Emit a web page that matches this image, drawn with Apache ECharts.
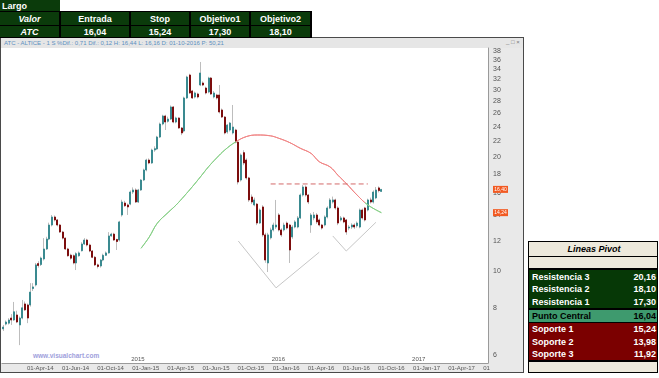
<!DOCTYPE html>
<html>
<head>
<meta charset="utf-8">
<title>ATC - ALTICE</title>
<script src="https://cdn.jsdelivr.net/npm/echarts@6.0.0/dist/echarts.min.js"></script>
<style>
  html, body { margin: 0; padding: 0; }
  body {
    width: 659px; height: 378px; position: relative; overflow: hidden;
    background: #fff; font-family: 'Liberation Sans', Arial, sans-serif;
  }
  .box { position: absolute; box-sizing: border-box; }
  #win { left: 0; top: 37px; width: 524px; height: 336px; border: 1px solid #4a4a4a; background: #fff; }
  #titlebar {
    left: 1px; top: 38px; width: 522px; height: 10px; background: #e6e6e6; color: #5b8fc0;
    font: 6px 'Liberation Sans Narrow', 'Liberation Sans', sans-serif; line-height: 10px;
    padding-left: 3px; white-space: nowrap;
  }
  #btns { left: 506px; top: 38px; font-size: 6px; line-height: 8px; color: #777; }
  #ypanel { left: 488px; top: 48px; width: 35px; height: 324px; background: #e9e9e9; }
  #xpanel { left: 1px; top: 363px; width: 522px; height: 9px; background: #e9e9e9; }
  #chart { left: 0; top: 0; width: 659px; height: 378px; }
  #watermark { left: 33px; top: 352px; font-size: 6.5px; font-weight: bold; color: #a0a0dc; }

  .cell {
    background: #0b3b0b; color: #fff; font-weight: bold; font-size: 9px;
    display: flex; align-items: center; justify-content: center; white-space: nowrap;
  }
  .prow {
    left: 529px; width: 128px; font-weight: bold; font-size: 9px; color: #fff;
    display: flex; align-items: center; justify-content: space-between;
    padding: 0 1px 0 3px; white-space: nowrap;
  }
  .beige { background: #ede9dc; color: #000; }
  .dgreen { background: #063806; }
  .mgreen { background: #3e9a6e; color: #000; }
  .dred { background: #7b0000; }
</style>
</head>
<body>
<div id="win" class="box"></div>
<div id="titlebar" class="box">ATC - ALTICE - 1 S %Dif.: 0,71 Dif.: 0,12 H: 16,44 L: 16,16 D: 01-10-2016 P: 50,21</div>
<div id="btns" class="box">_ &#9633; &#215;</div>
<div id="ypanel" class="box"></div>
<div id="xpanel" class="box"></div>
<div id="watermark" class="box">www.visualchart.com</div>
<div id="chart" class="box"></div>

<!-- tabla superior -->
<div class="box cell" style="left:0;top:0;width:60px;height:11px;justify-content:flex-start;padding-left:2px">Largo</div>
<div class="box" style="left:0;top:11px;width:312px;height:27px;background:#000"></div>
<div class="box cell" style="left:0;top:12px;width:59px;height:13px"><i>Valor</i></div>
<div class="box cell" style="left:61px;top:12px;width:68px;height:13px">Entrada</div>
<div class="box cell" style="left:131px;top:12px;width:58px;height:13px">Stop</div>
<div class="box cell" style="left:191px;top:12px;width:58px;height:13px">Objetivo1</div>
<div class="box cell" style="left:251px;top:12px;width:59px;height:13px">Objetivo2</div>
<div class="box cell" style="left:0;top:26px;width:59px;height:11px"><i>ATC</i></div>
<div class="box cell" style="left:61px;top:26px;width:68px;height:11px">16,04</div>
<div class="box cell" style="left:131px;top:26px;width:58px;height:11px">15,24</div>
<div class="box cell" style="left:191px;top:26px;width:58px;height:11px">17,30</div>
<div class="box cell" style="left:251px;top:26px;width:59px;height:11px">18,10</div>

<!-- lineas pivot -->
<div class="box" style="left:528px;top:241px;width:130px;height:132px;background:#000"></div>
<div class="box prow beige" style="top:242px;height:14px;justify-content:center"><i>Lineas Pivot</i></div>
<div class="box prow beige" style="top:257px;height:11px"></div>
<div class="box prow dgreen" style="top:270px;height:13px"><span>Resistencia 3</span><span>20,16</span></div>
<div class="box prow dgreen" style="top:283px;height:12px"><span>Resistencia 2</span><span>18,10</span></div>
<div class="box prow dgreen" style="top:295px;height:13px"><span>Resistencia 1</span><span>17,30</span></div>
<div class="box prow mgreen" style="top:310px;height:12px"><span>Punto Central</span><span>16,04</span></div>
<div class="box prow dred" style="top:323px;height:12px"><span>Soporte 1</span><span>15,24</span></div>
<div class="box prow dred" style="top:335px;height:13px"><span>Soporte 2</span><span>13,98</span></div>
<div class="box prow dred" style="top:348px;height:12px"><span>Soporte 3</span><span>11,92</span></div>
<div class="box prow beige" style="top:362px;height:10px"></div>

<script>
// velas semanales: [apertura, cierre, minimo, maximo]
const ohlc = [
  [7.03, 7.11, 6.94, 7.20], [7.24, 7.33, 7.18, 7.40], [7.28, 7.42, 7.22, 7.50], [7.51, 7.42, 7.20, 7.69],
  [7.42, 7.80, 7.38, 8.28], [7.65, 7.33, 7.28, 7.85], [7.20, 7.51, 6.37, 7.58], [7.51, 7.99, 7.45, 8.38],
  [8.18, 7.89, 7.84, 8.30], [8.13, 7.51, 7.28, 8.20], [8.13, 8.79, 8.05, 9.28], [8.98, 9.07, 8.85, 9.28],
  [9.18, 10.37, 9.10, 10.49], [10.45, 10.33, 10.20, 10.60], [10.39, 10.81, 10.30, 10.90], [10.75, 11.42, 10.65, 12.20],
  [11.42, 12.13, 11.35, 12.30], [12.13, 13.21, 12.05, 13.40], [13.21, 13.87, 13.10, 14.04], [13.87, 13.62, 13.50, 14.00],
  [13.62, 13.21, 13.10, 13.70], [13.21, 12.66, 12.60, 13.30], [12.66, 12.20, 12.10, 12.75], [12.20, 11.42, 11.35, 12.25],
  [11.42, 10.96, 10.90, 11.50], [11.00, 10.80, 10.70, 11.10], [10.96, 10.49, 10.40, 11.05], [10.49, 11.10, 10.05, 11.20],
  [10.96, 11.15, 10.90, 11.25], [11.30, 11.77, 11.25, 11.90], [11.77, 12.06, 11.70, 12.20], [12.06, 11.70, 11.60, 12.15],
  [11.70, 11.28, 11.20, 11.80], [11.28, 10.86, 10.80, 11.35], [10.86, 10.37, 10.30, 10.95], [10.37, 10.27, 10.15, 10.45],
  [10.30, 10.68, 10.20, 10.75], [10.68, 10.99, 10.60, 11.10], [10.99, 11.15, 10.95, 11.25], [11.15, 12.36, 11.10, 12.65],
  [12.36, 12.50, 12.30, 12.60], [12.50, 12.06, 12.00, 12.60], [12.10, 11.95, 11.35, 12.15], [12.06, 13.46, 11.95, 13.55],
  [14.04, 15.19, 13.90, 15.40], [15.10, 14.85, 14.75, 15.30], [14.92, 14.74, 14.04, 15.05], [15.00, 16.14, 14.90, 16.30],
  [16.14, 16.34, 15.95, 16.60], [16.34, 15.19, 15.10, 16.50], [15.19, 16.34, 15.10, 16.45], [16.34, 17.36, 16.25, 17.45],
  [17.36, 18.45, 17.25, 18.60], [18.45, 19.60, 18.30, 19.75], [19.60, 19.25, 19.10, 19.80], [19.25, 20.83, 19.15, 21.00],
  [20.83, 21.00, 20.60, 21.30], [20.96, 22.54, 20.85, 22.70], [22.54, 24.39, 22.40, 24.60], [24.39, 25.61, 24.20, 25.80],
  [25.61, 24.69, 23.52, 25.80], [24.80, 25.14, 24.60, 25.50], [25.14, 27.05, 25.00, 27.30], [27.05, 24.69, 24.50, 27.20],
  [24.69, 25.30, 24.50, 25.50], [25.30, 23.81, 23.70, 25.40], [23.81, 23.10, 22.80, 23.95], [23.38, 28.57, 23.20, 28.80],
  [28.57, 32.45, 28.40, 32.70], [32.85, 29.45, 29.30, 33.10], [29.81, 28.57, 28.40, 30.00], [28.74, 29.45, 28.50, 29.70],
  [29.27, 28.74, 28.50, 29.50], [30.91, 33.25, 30.70, 35.55], [31.29, 30.91, 30.70, 31.60], [30.35, 29.45, 29.20, 30.60],
  [29.63, 32.25, 29.40, 32.50], [32.25, 29.27, 29.10, 32.45], [28.74, 29.45, 28.50, 29.80], [29.09, 28.57, 28.30, 29.30],
  [29.09, 26.24, 26.00, 30.91], [26.56, 25.45, 25.30, 26.80], [25.45, 23.10, 22.90, 25.60], [23.24, 24.24, 23.00, 24.40],
  [23.52, 24.54, 23.30, 24.70], [23.10, 23.95, 22.90, 27.38], [23.52, 21.86, 21.70, 23.70], [21.86, 17.15, 16.90, 22.00],
  [17.36, 20.21, 17.20, 20.40], [20.50, 19.25, 19.00, 20.80], [19.60, 17.58, 17.40, 19.80], [17.58, 15.38, 15.20, 17.70],
  [15.66, 15.19, 15.00, 15.90], [14.92, 15.38, 14.80, 15.60], [15.00, 13.37, 13.20, 15.10], [13.37, 14.47, 13.30, 14.60],
  [14.74, 12.44, 12.30, 14.90], [12.44, 10.68, 10.50, 12.60], [10.49, 12.44, 9.93, 12.60], [12.22, 12.82, 12.10, 13.00],
  [12.82, 13.21, 12.70, 13.40], [13.05, 13.21, 12.90, 15.38], [14.04, 12.82, 12.70, 14.20], [12.82, 12.44, 12.30, 12.95],
  [12.82, 13.21, 12.70, 13.40], [13.37, 12.97, 12.85, 13.50], [13.21, 11.35, 10.49, 13.30], [12.29, 13.05, 12.15, 13.20],
  [13.05, 13.46, 12.95, 13.60], [13.05, 13.79, 12.95, 13.95], [13.79, 15.85, 13.70, 16.00], [15.85, 16.64, 15.70, 16.84],
  [16.64, 15.85, 15.70, 16.80], [15.85, 15.19, 15.00, 15.95], [13.21, 14.04, 12.60, 14.20], [13.79, 14.04, 13.60, 14.30],
  [14.04, 13.46, 13.30, 14.20], [13.62, 13.21, 13.10, 13.75], [13.21, 12.97, 12.85, 13.30], [13.21, 13.87, 13.10, 14.00],
  [13.87, 14.65, 13.75, 14.80], [14.65, 15.38, 14.55, 15.55], [15.19, 15.38, 15.05, 15.70], [15.38, 14.65, 14.50, 15.50],
  [14.65, 13.37, 13.20, 14.80], [13.62, 13.79, 13.50, 13.95], [13.79, 13.46, 13.35, 13.90], [13.62, 12.66, 12.45, 13.70],
  [12.97, 13.05, 12.80, 13.20], [13.05, 13.21, 12.90, 13.35], [13.21, 13.05, 12.90, 13.35], [13.15, 13.37, 13.00, 13.50],
  [13.05, 14.47, 12.95, 14.60], [14.47, 13.79, 13.65, 14.60], [14.65, 13.62, 13.50, 14.75], [14.47, 15.38, 14.35, 15.50],
  [15.38, 15.19, 15.05, 15.60], [15.19, 16.14, 15.05, 16.30], [15.57, 16.34, 15.45, 16.64], [16.55, 16.28, 16.10, 16.70],
  [16.20, 16.40, 16.16, 16.44]
];

// media movil: [semana, valor]
const movingAvg = [
  [51, 11.47], [54, 12.27], [57, 13.35], [61, 14.25], [64, 14.92], [67, 15.75], [70, 16.67], [73, 17.70],
  [76, 18.82], [79, 19.85], [82, 20.83], [86, 21.87], [90, 22.60], [94, 22.82], [99, 22.70], [102, 22.37],
  [106, 21.80], [110, 21.05], [114, 20.40], [117, 19.40], [121, 18.80], [124, 17.85], [127, 17.00],
  [131, 15.85], [135, 14.92], [140, 14.24]
];
const maRedFrom = 86;   // precio por debajo de la media
const maRedTo = 134;

// linea de resistencia (discontinua) y figuras dibujadas
const neckline = [[99, 16.95], [135, 16.95]];
const shoulderLeft = [[87, 11.99], [101, 9.02], [117, 11.20]];
const shoulderRight = [[122, 12.36], [127, 11.28], [138, 13.43]];

// eje X: semanas desde 03-feb-2014
const weekCount = 180;
const firstWeek = Date.UTC(2014, 1, 3);
const categories = [];
for (let i = 0; i < weekCount; i++) {
  categories.push(new Date(firstWeek + i * 7 * 86400000).toISOString().slice(0, 10));
}
const xTickIdx = [8, 21, 34, 47, 60, 73, 86, 99, 112, 125, 138, 151, 164, 177];
const xTickLabels = ['01-Apr-14', '01-Jun-14', '01-Oct-14', '01-Jan-15', '01-Apr-15', '01-Jun-15', '01-Oct-15',
  '01-Jan-16', '01-Apr-16', '01-Jun-16', '01-Oct-16', '01-Jan-17', '01-Apr-17', '01'];
const yearIdx = [47, 99, 151];
const yearLabels = ['2015', '2016', '2017'];

// eje Y (logaritmico)
const yMajor = [6, 8, 10, 12, 14, 16, 18, 20, 22, 24, 26, 28, 30, 32, 34, 36, 38];
const yMinor = [6.5, 7, 7.5, 8.5, 9, 9.5, 10.5, 11, 11.5, 12.5, 13, 13.5, 14.5, 15, 15.5, 16.5, 17, 17.5,
  18.5, 19, 19.5, 21, 23, 25, 27, 29, 31, 33, 35, 37];

const lastClose = ohlc[ohlc.length - 1][1];
const lastAvg = movingAvg[movingAvg.length - 1][1];

const xTickMap = new Map(xTickIdx.map((v, k) => [v, xTickLabels[k]]));
const yearMap = new Map(yearIdx.map((v, k) => [v, yearLabels[k]]));
const narrow = "'Liberation Sans Narrow', 'Liberation Sans', sans-serif";

const bodies = ohlc.map(([o, c]) => [o, c, Math.min(o, c), Math.max(o, c)]);

const chart = echarts.init(document.getElementById('chart'), null, { renderer: 'canvas' });

const option = {
  animation: false,
  backgroundColor: 'transparent',
  grid: { left: 2, right: 171, top: 48, bottom: 15 },
  xAxis: [
    {
      type: 'category',
      data: categories,
      boundaryGap: true,
      position: 'bottom',
      axisLine: { show: true, lineStyle: { color: '#9a9a9a' } },
      axisTick: {
        alignWithLabel: true,
        interval: (i) => xTickMap.has(i),
        length: 8,
        lineStyle: { color: '#8a8a8a' }
      },
      axisLabel: {
        interval: (i) => xTickMap.has(i),
        formatter: (v, i) => xTickMap.get(i) || '',
        align: 'left',
        padding: [0, 0, 0, 2],
        margin: 2,
        fontSize: 6,
        fontFamily: narrow,
        color: '#555'
      },
      splitLine: { show: false }
    },
    {
      type: 'category',
      data: categories,
      boundaryGap: true,
      position: 'bottom',
      axisLine: { show: false },
      axisTick: {
        inside: true,
        alignWithLabel: true,
        interval: (i) => yearMap.has(i),
        length: 6,
        lineStyle: { color: '#8a8a8a' }
      },
      axisLabel: {
        inside: true,
        interval: (i) => yearMap.has(i),
        formatter: (v, i) => yearMap.get(i) || '',
        align: 'left',
        padding: [0, 0, 0, 1],
        margin: 1,
        fontSize: 6,
        fontFamily: narrow,
        color: '#555'
      },
      splitLine: { show: false }
    }
  ],
  yAxis: [
    {
      type: 'log',
      logBase: 10,
      position: 'right',
      min: 5.715,
      max: 38.7,
      axisLine: { show: true, lineStyle: { color: '#9a9a9a' } },
      axisTick: { customValues: yMajor, length: 3, lineStyle: { color: '#777' } },
      axisLabel: {
        customValues: yMajor,
        formatter: (v) => String(Math.round(v)),
        margin: 5,
        fontSize: 7,
        fontFamily: narrow,
        color: '#555'
      },
      splitLine: { show: false }
    },
    {
      type: 'log',
      logBase: 10,
      position: 'right',
      min: 5.715,
      max: 38.7,
      axisLine: { show: false },
      axisTick: { customValues: yMinor, length: 2, lineStyle: { color: '#999' } },
      axisLabel: { show: false },
      splitLine: { show: false }
    }
  ],
  visualMap: {
    show: false,
    type: 'piecewise',
    seriesIndex: 2,
    dimension: 0,
    pieces: [
      { lte: maRedFrom, color: '#86cf86' },
      { gt: maRedFrom, lte: maRedTo, color: '#f08585' },
      { gt: maRedTo, color: '#86cf86' }
    ]
  },
  series: [
    {
      // mechas
      type: 'candlestick',
      data: ohlc,
      barWidth: 1,
      itemStyle: {
        color: '#bdbdbd', color0: '#bdbdbd',
        borderColor: '#bdbdbd', borderColor0: '#bdbdbd', borderWidth: 1
      }
    },
    {
      // cuerpos
      type: 'candlestick',
      data: bodies,
      barWidth: 1.5,
      itemStyle: {
        color: '#42949b', color0: '#8a1111',
        borderColor: '#3a8a90', borderColor0: '#7c0d0d', borderWidth: 1
      }
    },
    {
      type: 'line',
      data: movingAvg,
      smooth: 0.4,
      symbol: 'none',
      lineStyle: { width: 1 },
      z: 3
    },
    {
      type: 'line',
      data: neckline,
      symbol: 'none',
      lineStyle: { width: 1, color: '#d46a6a', type: [5, 3] },
      z: 3
    },
    {
      type: 'line',
      data: shoulderLeft,
      symbol: 'none',
      lineStyle: { width: 1, color: '#c6c6c6' }
    },
    {
      type: 'line',
      data: shoulderRight,
      symbol: 'none',
      lineStyle: { width: 1, color: '#c6c6c6' }
    }
  ]
};

chart.setOption(option);

// etiquetas naranjas en el eje de precios
function priceTag(value) {
  const y = chart.convertToPixel({ yAxisIndex: 0 }, value);
  return [
    { type: 'rect', shape: { x: 493, y: y - 3.5, width: 15, height: 7 }, style: { fill: '#f25a22' }, z: 10 },
    {
      type: 'text', x: 500.5, y: y, z: 11,
      style: {
        text: value.toFixed(2).replace('.', ','), fill: '#fff',
        font: "5px 'Liberation Sans Narrow', 'Liberation Sans', sans-serif",
        align: 'center', verticalAlign: 'middle'
      }
    }
  ];
}

chart.setOption({ graphic: [...priceTag(lastClose), ...priceTag(lastAvg)] });
</script>
</body>
</html>
